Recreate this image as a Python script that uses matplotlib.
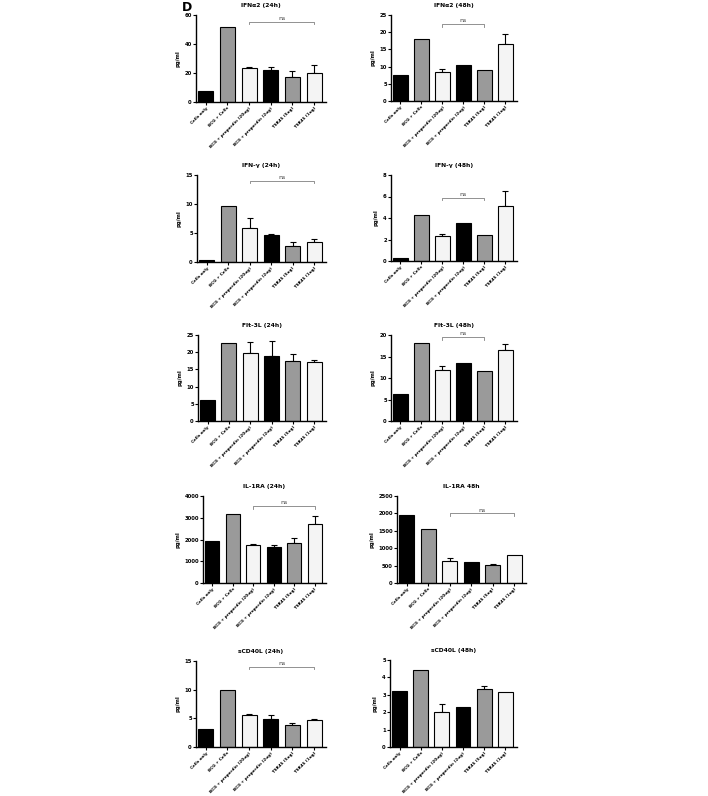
import numpy as np
import matplotlib
matplotlib.use('Agg')
import matplotlib.pyplot as plt

groups = ['Cells only', 'BCG + Cells', 'BCG + properdin (20ug)',
          'BCG + properdin (2ug)', 'TSR45 (5ug)', 'TSR45 (1ug)']

# panel values (pg/ml), errors are upper SEM only
ifna2_24 = [7.8, 51.5, 23.3, 22.4, 17.2, 20.2]
ifna2_24_err = [0, 0, 0.6, 1.9, 4.4, 5.2]
ifna2_48 = [7.6, 18.0, 8.3, 10.4, 9.0, 16.5]
ifna2_48_err = [0, 0, 1.0, 0, 0, 2.9]
ifng_24 = [0.3, 9.7, 5.8, 4.7, 2.8, 3.4]
ifng_24_err = [0, 0, 1.7, 0.1, 0.7, 0.5]
ifng_48 = [0.3, 4.27, 2.3, 3.5, 2.45, 5.15]
ifng_48_err = [0, 0, 0.2, 0, 0, 1.35]
flt3l_24 = [6.2, 22.7, 19.7, 19.0, 17.4, 17.1]
flt3l_24_err = [0, 0, 3.3, 4.4, 2.2, 0.5]
flt3l_48 = [6.2, 18.2, 11.8, 13.4, 11.6, 16.6]
flt3l_48_err = [0, 0, 0.9, 0, 0, 1.2]
il1ra_24 = [1950, 3180, 1770, 1660, 1830, 2720]
il1ra_24_err = [0, 0, 45, 110, 220, 370]
il1ra_48 = [1960, 1540, 645, 590, 520, 810]
il1ra_48_err = [0, 0, 75, 0, 20, 0]
scd40l_24 = [3.2, 9.9, 5.55, 4.95, 3.85, 4.7]
scd40l_24_err = [0, 0, 0.2, 0.55, 0.25, 0.25]
scd40l_48 = [3.2, 4.45, 2.02, 2.32, 3.34, 3.17]
scd40l_48_err = [0, 0, 0.44, 0, 0.17, 0]

titles = ['IFN\u03b12 (24h)', 'IFN\u03b12 (48h)', 'IFN-\u03b3 (24h)', 'IFN-\u03b3 (48h)',
          'Flt-3L (24h)', 'Flt-3L (48h)', 'IL-1RA (24h)', 'IL-1RA 48h',
          'sCD40L (24h)', 'sCD40L (48h)']
values = [ifna2_24, ifna2_48, ifng_24, ifng_48, flt3l_24, flt3l_48,
          il1ra_24, il1ra_48, scd40l_24, scd40l_48]
errors = [ifna2_24_err, ifna2_48_err, ifng_24_err, ifng_48_err, flt3l_24_err,
          flt3l_48_err, il1ra_24_err, il1ra_48_err, scd40l_24_err, scd40l_48_err]
y_max = [60, 25, 15, 8, 25, 20, 4000, 2500, 15, 5]
y_step = [20, 5, 5, 2, 5, 5, 1000, 500, 5, 1]
# ns bracket: (first bar, last bar, height) or None
ns_brackets = [(2, 5, 55.5), (2, 4, 22.4), (2, 5, 14.0), (2, 4, 5.9), None,
               (2, 4, 19.5), (2, 5, 3540), (2, 5, 2000), (2, 5, 14.0), None]

bar_colors = ['#000000', '#9a9a9a', '#f4f4f4', '#000000', '#9a9a9a', '#f4f4f4']

# axes boxes in pixels: left, right, top, bottom
boxes = [(196, 326, 15, 102), (391, 517, 15, 101),
         (197, 326, 175, 262), (391, 517, 175, 261),
         (198, 326, 335, 421), (391, 517, 335, 421),
         (203, 326, 496, 583), (397, 526, 496, 583),
         (196, 326, 661, 747), (390, 517, 660, 747)]

W, H = 708, 796
fig = plt.figure(figsize=(W / 100, H / 100), dpi=100)
plt.rcParams['font.family'] = 'DejaVu Sans'

x = np.arange(len(groups))
for i in range(len(titles)):
    l, r, t, b = boxes[i]
    ax = fig.add_axes([l / W, 1 - b / H, (r - l) / W, (b - t) / H])
    ax.bar(x, values[i], width=0.7, color=bar_colors, edgecolor='black', linewidth=0.8, zorder=2)
    err = np.array(errors[i], dtype=float)
    has = err > 0
    if has.any():
        ax.errorbar(x[has], np.array(values[i])[has], yerr=[np.zeros(has.sum()), err[has]],
                    fmt='none', ecolor='black', elinewidth=0.8, capsize=2, capthick=0.8, zorder=1)
    ax.set_xlim(-0.45, 5.55)
    ax.set_ylim(0, y_max[i])
    ax.set_yticks(np.arange(0, y_max[i] + y_step[i] / 2, y_step[i]))
    ax.set_xticks(x)
    ax.set_xticklabels(groups, rotation=45, ha='right', rotation_mode='anchor',
                       fontsize=3.0, fontweight='bold')
    ax.tick_params(axis='y', labelsize=3.8, length=2, width=0.8, pad=1)
    ax.tick_params(axis='x', length=2, width=0.8, pad=1)
    for lab in ax.get_yticklabels():
        lab.set_fontweight('bold')
    ax.spines['top'].set_visible(False)
    ax.spines['right'].set_visible(False)
    ax.spines['left'].set_linewidth(1.0)
    ax.spines['bottom'].set_linewidth(1.0)
    ax.set_ylabel('pg/ml', fontsize=3.8, fontweight='bold', labelpad=3)
    ax.set_title(titles[i], fontsize=4.3, fontweight='bold', pad=6)
    if ns_brackets[i] is not None:
        a, c, h = ns_brackets[i]
        tick = y_max[i] * 0.03
        ax.plot([a, a, c, c], [h - tick, h, h, h - tick], color='#808080', lw=0.6,
                clip_on=False)
        ax.text((a + c) / 2, h + y_max[i] * 0.01, 'ns', ha='center', va='bottom',
                fontsize=4.5, color='#404040')

fig.text(182 / W, 1 - 11 / H, 'D', fontsize=9, fontweight='bold')

fig.savefig('out.png', dpi=100, facecolor='white')
